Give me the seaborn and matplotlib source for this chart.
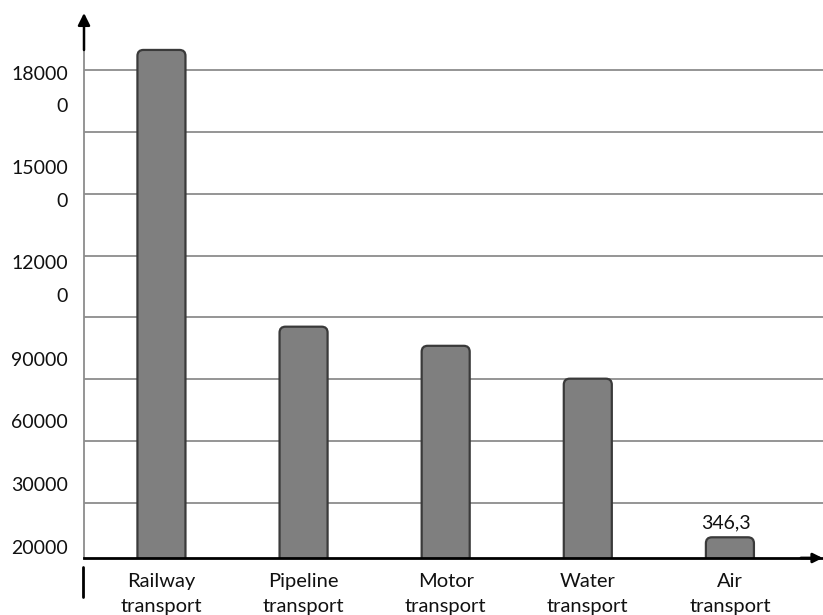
import matplotlib
matplotlib.use("Agg")
import matplotlib.pyplot as plt
import seaborn as sns
import pandas as pd
from matplotlib.patches import FancyBboxPatch

# Freight volume by mode of transport
categories = ["Railway\ntransport", "Pipeline\ntransport", "Motor\ntransport",
              "Water\ntransport", "Air\ntransport"]
volumes = [8500, 3870, 3550, 3000, 346.3]

# Value-axis labels as printed, and the levels they sit beside
tick_labels = ["18000\n0", "15000\n0", "12000\n0", "90000", "60000", "30000", "20000"]
tick_levels = [7980, 6391, 4802, 3334, 2297, 1238, 179]

# Horizontal guide lines
grid_levels = [915, 1952, 2988, 4024, 5059, 6095, 7129, 8165]

air_label = "346,3"

sns.set_theme(style="white")
plt.rcParams["font.family"] = ["Lato", "DejaVu Sans"]

df = pd.DataFrame({"mode": categories, "volume": volumes})

fig = plt.figure(figsize=(8.23, 6.15), dpi=100)
W, H = 823, 615
ax_left, ax_right, ax_bottom, ax_top = 84, 823, 558, 13
ax = fig.add_axes([ax_left / W, (H - ax_bottom) / H,
                   (ax_right - ax_left) / W, (ax_bottom - ax_top) / H])

sns.barplot(data=df, x="mode", y="volume", color="#7f7f7f", width=0.338,
            saturation=1, ax=ax, zorder=3)

ax.set_xlim(-0.545, 4.655)
ax.set_ylim(0, 9118)

# pixel scale of the axes to keep the rounded corners circular
fig.canvas.draw()
bbox = ax.get_window_extent()
x_per_px = (ax.get_xlim()[1] - ax.get_xlim()[0]) / bbox.width
y_per_px = (ax.get_ylim()[1] - ax.get_ylim()[0]) / bbox.height
aspect = y_per_px / x_per_px
radius = 6 * x_per_px

for p in list(ax.patches):
    x0, w, h = p.get_x(), p.get_width(), p.get_height()
    p.set_visible(False)
    extra = 20 * y_per_px
    box = FancyBboxPatch((x0, -extra), w, h + extra,
                         boxstyle=f"round,pad=0,rounding_size={radius}",
                         mutation_aspect=aspect, facecolor="#7f7f7f",
                         edgecolor="#3a3a3a", linewidth=1.6, zorder=3)
    ax.add_patch(box)

for g in grid_levels:
    ax.axhline(g, color="#8c8c8c", lw=1.3, zorder=1)

# value label over the air transport bar
ax.annotate(air_label, xy=(4, volumes[4]), xytext=(-3, 6.5),
            textcoords="offset points", ha="center", va="baseline",
            fontsize=14, color="#111111")

ax.set_yticks(tick_levels)
ax.set_yticklabels(tick_labels, fontsize=14, color="#111111",
                   linespacing=2.1, multialignment="right")
ax.tick_params(axis="y", length=0, pad=11.5)
ax.tick_params(axis="x", length=0, pad=11, labelsize=14.5, labelcolor="#111111")
for lab in ax.get_xticklabels():
    lab.set_linespacing(1.55)

ax.set_xlabel("")
ax.set_ylabel("")

for s in ["top", "right"]:
    ax.spines[s].set_visible(False)
ax.spines["bottom"].set_color("black")
ax.spines["bottom"].set_linewidth(2)
ax.spines["bottom"].set_zorder(5)
y_arrow_start = (ax_bottom - 50) * y_per_px
ax.spines["left"].set_color("#8c8c8c")
ax.spines["left"].set_linewidth(1.3)
ax.spines["left"].set_bounds(0, y_arrow_start)

# axis arrows
ax.annotate("", xy=(0, 1.0), xytext=(0, y_arrow_start / 9118),
            xycoords="axes fraction", textcoords="axes fraction",
            arrowprops=dict(arrowstyle="-|>", color="black", lw=1.8,
                            mutation_scale=18, shrinkA=0, shrinkB=0),
            annotation_clip=False)
ax.annotate("", xy=(0.9995, 0), xytext=(0.97, 0),
            xycoords="axes fraction", textcoords="axes fraction",
            arrowprops=dict(arrowstyle="-|>", color="black", lw=2,
                            mutation_scale=14, shrinkA=0, shrinkB=0),
            annotation_clip=False)

# short stub of the axis below the baseline
axh = ax_bottom - ax_top
ax.plot([-1.2 / (ax_right - ax_left)] * 2, [-9 / axh, -39 / axh],
        transform=ax.transAxes, color="black", lw=2, clip_on=False)

fig.savefig("out.png", dpi=100)
